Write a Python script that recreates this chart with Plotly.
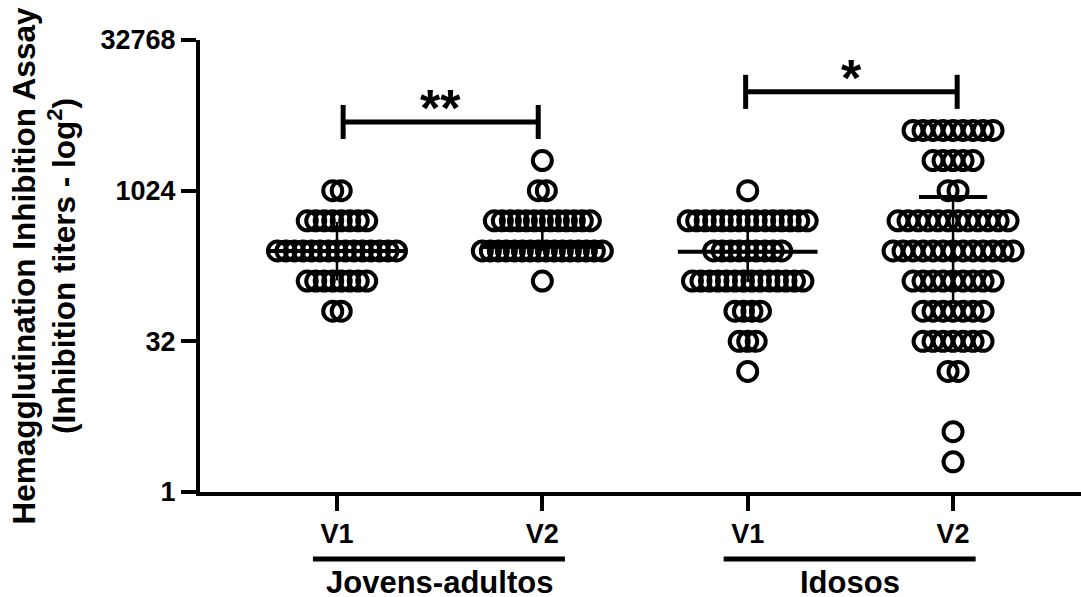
import numpy as np
import plotly.graph_objects as go

# ---------------- data ----------------
titer_levels = [2, 4, 8, 16, 32, 64, 128, 256, 512, 1024, 2048, 4096]
jovens_v1_counts = [0, 0, 0, 0, 0, 2, 8, 15, 8, 2, 0, 0]
jovens_v2_counts = [0, 0, 0, 0, 0, 0, 1, 16, 13, 2, 1, 0]
idosos_v1_counts = [0, 0, 0, 1, 3, 4, 14, 9, 15, 1, 0, 0]
idosos_v2_counts = [1, 1, 0, 2, 7, 7, 9, 13, 12, 2, 5, 9]

visit_labels = ["V1", "V2", "V1", "V2"]
group_names = ["Jovens-adultos", "Idosos"]

mean_titer = [256, 280, 251, 885]
sd_low = [130, 256, 125, 77]
sd_high = [500, 446, 498, None]

sig_labels = ["**", "*"]
sig_pairs = [(0, 1), (2, 3)]
sig_titer = [4970, 9940]

y_tick_vals = [1, 32, 1024, 32768]

# ---------------- style ----------------
W, H = 1081, 597
ML, MR, MT, MB = 200, 0, 40, 105
x_range = [-0.667, 3.623]
px_per_unit = (W - ML - MR) / (x_range[1] - x_range[0])
dot_spacing_px = [8.5, 8.0, 8.5, 10.0]
mean_halfwidth = [0.34, 0.30, 0.34, 0.166]
bracket_end_offsets = [(0.03, -0.02), (-0.01, 0.02)]
FONT = "Liberation Sans, Arial, sans-serif"

fig = go.Figure()

all_counts = [jovens_v1_counts, jovens_v2_counts, idosos_v1_counts, idosos_v2_counts]
for g, counts in enumerate(all_counts):
    xs, ys = [], []
    step = dot_spacing_px[g] / px_per_unit
    for lvl, n in zip(titer_levels, counts):
        for j in range(n):
            xs.append(g + (j - (n - 1) / 2) * step)
            ys.append(lvl)
    fig.add_trace(go.Scatter(
        x=xs, y=ys, mode="markers", cliponaxis=False, showlegend=False,
        marker=dict(symbol="circle", size=19, color="rgba(0,0,0,0)",
                    line=dict(color="black", width=4)),
        hoverinfo="skip"))

# mean and SD lines
for g in range(4):
    hw = mean_halfwidth[g]
    fig.add_trace(go.Scatter(x=[g - hw, g + hw], y=[mean_titer[g], mean_titer[g]],
                             mode="lines", line=dict(color="black", width=4),
                             showlegend=False, cliponaxis=False, hoverinfo="skip"))
    top = sd_high[g] if sd_high[g] is not None else mean_titer[g]
    fig.add_trace(go.Scatter(x=[g, g], y=[sd_low[g], top],
                             mode="lines", line=dict(color="black", width=2.5),
                             showlegend=False, cliponaxis=False, hoverinfo="skip"))

# significance brackets
for (a, b), (oa, ob), t, lab in zip(sig_pairs, bracket_end_offsets, sig_titer, sig_labels):
    xa, xb = a + oa, b + ob
    fig.add_trace(go.Scatter(x=[xa, xb], y=[t, t], mode="lines",
                             line=dict(color="black", width=5),
                             showlegend=False, cliponaxis=False, hoverinfo="skip"))
    for xx in (xa, xb):
        fig.add_trace(go.Scatter(x=[xx, xx], y=[t / 1.48, t * 1.48], mode="lines",
                                 line=dict(color="black", width=5),
                                 showlegend=False, cliponaxis=False, hoverinfo="skip"))
    fig.add_annotation(x=(xa + xb) / 2, y=np.log10(t), xref="x", yref="y",
                       text=lab, showarrow=False, yshift=14, yanchor="middle",
                       font=dict(family=FONT, size=52, color="black", weight="bold"))

# group underlines and labels
for k, name in enumerate(group_names):
    g0 = 2 * k
    fig.add_shape(type="line", xref="x", yref="paper",
                  x0=g0 - 0.117, x1=g0 + 1.11, y0=-0.148, y1=-0.148,
                  line=dict(color="black", width=5))
    fig.add_annotation(x=g0 + 0.5, y=-0.200, xref="x", yref="paper",
                       text=name, showarrow=False, yanchor="middle",
                       font=dict(family=FONT, size=31, color="black", weight="bold"))

fig.update_layout(
    width=W, height=H,
    margin=dict(l=ML, r=MR, t=MT, b=MB, autoexpand=False),
    paper_bgcolor="white", plot_bgcolor="white",
    showlegend=False,
    font=dict(family=FONT, color="black"),
)
fig.update_xaxes(
    range=x_range, tickmode="array", tickvals=[0, 1, 2, 3], ticktext=visit_labels,
    showline=True, linecolor="black", linewidth=4, ticks="outside", ticklen=15,
    tickwidth=4, tickcolor="black", showgrid=False, zeroline=False,
    tickfont=dict(family=FONT, size=27, color="black", weight="bold"),
)
fig.update_yaxes(
    type="log", range=[0, np.log10(32768)], tickmode="array", tickvals=y_tick_vals,
    ticktext=[str(v) for v in y_tick_vals],
    showline=True, linecolor="black", linewidth=4, ticks="outside", ticklen=15,
    tickwidth=4, tickcolor="black", showgrid=False, zeroline=False,
    tickfont=dict(family=FONT, size=27, color="black", weight="bold"),
    title=dict(text="Hemagglutination Inhibition Assay<br>(Inhibition titers - log<sup>2</sup>)",
               font=dict(family=FONT, size=31.5, color="black", weight="bold"),
               standoff=16),
)

fig.write_html("out.html")
